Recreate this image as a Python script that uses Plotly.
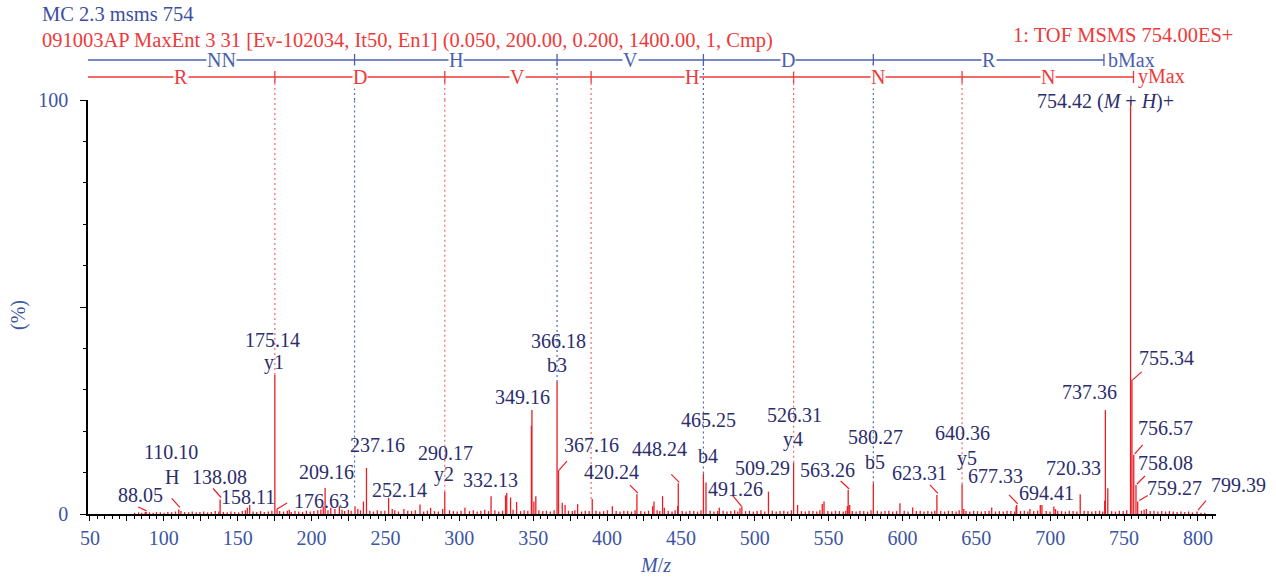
import plotly.graph_objects as go

# ---------------- data ----------------
# labelled peaks (m/z, relative intensity %)
label_mz = [88.05, 110.10, 138.08, 158.11, 175.14, 176.63, 209.16, 237.16, 252.14, 290.17,
            332.13, 349.16, 366.18, 367.16, 420.24, 448.24, 465.25, 491.26, 509.29, 526.31,
            563.26, 580.27, 623.31, 640.36, 677.33, 694.41, 720.33, 737.36, 754.42, 755.34,
            756.57, 758.08, 759.27, 799.39]
label_int = [0.5, 1.1, 3.5, 2.2, 33.6, 1.2, 6.3, 11.1, 3.9, 5.4,
             5.1, 25.1, 31.9, 10.6, 4.8, 7.4, 9.8, 1.9, 5.4, 12.4,
             5.8, 7.4, 4.6, 7.2, 2.2, 2.2, 4.8, 25.1, 100.0, 32.4,
             14.3, 7.0, 3.0, 0.6]
label_text = ["88.05", "110.10", "138.08", "158.11", "175.14", "176.63", "209.16", "237.16", "252.14", "290.17",
              "332.13", "349.16", "366.18", "367.16", "420.24", "448.24", "465.25", "491.26", "509.29", "526.31",
              "563.26", "580.27", "623.31", "640.36", "677.33", "694.41", "720.33", "737.36",
              "754.42 (<i>M</i> + <i>H</i>)+", "755.34", "756.57", "758.08", "759.27", "799.39"]
ion_text = {"110.10": "H", "175.14": "y1", "290.17": "y2", "366.18": "b3", "465.25": "b4",
            "526.31": "y4", "580.27": "b5", "640.36": "y5"}

# other visible peaks (m/z, %)
other_peaks = [(156.5, 1.5), (184.9, 1.0), (207.9, 1.8), (213.0, 1.5), (215.8, 1.2), (218.8, 1.9),
               (224.9, 1.0), (229.4, 1.9), (235.1, 3.0), (254.6, 1.2), (262.5, 1.2), (273.4, 2.3),
               (280.6, 1.5), (288.7, 1.2), (303.8, 1.5), (321.5, 4.3), (331.3, 4.5), (334.7, 4.0),
               (338.8, 2.9), (348.8, 21.3), (350.5, 3.0), (351.8, 4.3), (369.7, 2.7), (371.6, 2.2),
               (380.1, 2.4), (390.0, 3.6), (403.6, 1.9), (430.9, 1.9), (431.8, 3.0), (437.6, 4.3),
               (438.8, 1.5), (447.8, 1.9), (467.0, 7.6), (476.0, 1.5), (490.0, 1.4), (529.0, 2.2),
               (545.7, 2.4), (546.9, 3.0), (562.7, 1.9), (564.3, 2.2), (598.3, 2.6), (606.9, 1.6),
               (641.5, 1.2), (660.4, 1.6), (676.9, 1.8), (686.3, 1.2), (693.3, 2.2), (702.5, 1.8),
               (703.6, 1.2), (736.9, 3.2), (739.0, 6.2), (765.1, 1.2)]

# baseline noise peaks (m/z, %)
noise_peaks = [
    (80.2, 0.3), (82.9, 0.4), (85.1, 0.3), (87.4, 0.5), (90.3, 0.4), (92.8, 0.3), (95.0, 0.5), (97.6, 0.4), (100.2, 0.3), (102.7, 0.5),
    (105.3, 0.4), (107.9, 0.6), (111.6, 0.7), (114.1, 0.5), (116.8, 0.4), (119.2, 0.6), (121.9, 0.4), (124.4, 0.5), (127.0, 0.6), (129.6, 0.4),
    (132.1, 0.5), (134.8, 0.7), (137.2, 0.6), (140.3, 0.5), (142.9, 0.4), (145.4, 0.6), (148.0, 0.5), (150.6, 0.4), (153.1, 0.7), (155.2, 0.9),
    (160.4, 0.6), (162.9, 0.5), (165.5, 0.7), (168.0, 0.5), (170.7, 0.6), (173.1, 0.8), (178.4, 0.7), (181.0, 0.6), (183.6, 0.8), (186.2, 0.5),
    (188.8, 0.7), (191.3, 0.6), (193.9, 0.5), (196.5, 0.8), (199.1, 0.6), (201.6, 0.7), (204.2, 0.9), (206.3, 1.1), (211.1, 0.9), (220.6, 1.0),
    (222.4, 0.7), (226.8, 0.8), (231.3, 1.2), (233.1, 0.9), (239.4, 0.8), (241.9, 0.6), (244.5, 0.9), (247.0, 0.7), (249.6, 0.8), (256.3, 0.9),
    (258.8, 0.6), (265.1, 0.8), (267.7, 0.7), (270.2, 0.9), (275.9, 0.6), (278.4, 0.8), (283.2, 0.7), (285.8, 0.6), (293.4, 0.9), (296.0, 0.7),
    (298.6, 0.6), (301.2, 0.8), (306.9, 0.7), (309.5, 0.9), (312.1, 0.6), (314.6, 0.8), (317.2, 1.0), (319.8, 0.7), (324.1, 0.9), (326.7, 0.6),
    (329.3, 0.8), (336.4, 1.0), (341.5, 0.7), (343.9, 0.9), (346.4, 0.8), (353.9, 0.9), (356.5, 0.7), (359.0, 0.8), (361.6, 0.6), (364.2, 0.9),
    (373.9, 0.8), (376.5, 0.7), (378.2, 0.9), (382.8, 0.6), (385.3, 0.8), (387.9, 0.7), (392.5, 0.8), (395.1, 0.6), (397.7, 0.7), (400.3, 0.9),
    (406.2, 0.7), (408.8, 0.6), (411.4, 0.8), (414.0, 0.7), (416.6, 0.6), (419.0, 0.9), (422.9, 0.7), (425.5, 0.6), (428.1, 0.8), (433.9, 0.9),
    (435.7, 0.7), (441.4, 0.8), (444.0, 0.6), (446.1, 0.9), (450.9, 0.7), (453.5, 0.6), (456.1, 0.8), (458.7, 0.7), (461.3, 0.6), (463.6, 0.9),
    (469.8, 0.8), (472.4, 0.6), (474.9, 0.7), (478.6, 0.8), (481.2, 0.6), (483.8, 0.7), (486.4, 0.9), (488.5, 0.6), (493.8, 0.7), (496.4, 0.8),
    (499.0, 0.6), (501.6, 0.7), (504.2, 0.9), (506.8, 0.6), (511.9, 0.8), (514.5, 0.6), (517.1, 0.7), (519.7, 0.8), (522.3, 0.6), (524.8, 0.9),
    (531.6, 0.7), (534.2, 0.6), (536.8, 0.8), (539.4, 0.7), (542.0, 0.6), (544.1, 0.9), (549.5, 0.7), (552.1, 0.6), (554.7, 0.8), (557.3, 0.7),
    (559.9, 0.6), (561.6, 0.8), (566.0, 0.7), (568.6, 0.6), (571.2, 0.8), (573.8, 0.7), (576.4, 0.6), (578.7, 0.9), (583.0, 0.8), (585.6, 0.6),
    (588.2, 0.7), (590.8, 0.8), (593.4, 0.6), (596.0, 0.7), (601.2, 0.8), (603.8, 0.6), (609.4, 0.7), (612.0, 0.8), (614.6, 0.6), (617.2, 0.7),
    (619.8, 0.6), (621.9, 0.8), (625.9, 0.7), (628.5, 0.6), (631.1, 0.8), (633.7, 0.7), (636.3, 0.6), (638.4, 0.9), (643.0, 0.7), (645.6, 0.6),
    (648.2, 0.8), (650.8, 0.7), (653.4, 0.6), (656.0, 0.7), (658.6, 0.8), (663.0, 0.6), (665.6, 0.7), (668.2, 0.6), (670.8, 0.8), (673.4, 0.7),
    (675.9, 0.6), (679.9, 0.7), (682.5, 0.8), (684.9, 0.6), (688.9, 0.7), (691.5, 0.8), (697.3, 0.7), (699.9, 0.6), (705.1, 0.8), (707.7, 0.7),
    (710.3, 0.6), (712.9, 0.8), (715.5, 0.7), (718.1, 0.6), (723.0, 0.8), (725.6, 0.7), (728.2, 0.6), (730.8, 0.7), (733.4, 0.8), (735.6, 0.6),
    (741.6, 0.7), (744.2, 0.6), (746.8, 0.8), (749.4, 0.7), (751.8, 0.9), (761.8, 0.8), (763.6, 1.0), (767.7, 0.7), (770.3, 0.8), (772.9, 0.6),
    (775.5, 0.7), (778.1, 0.6), (780.7, 0.7), (783.3, 0.6), (785.9, 0.5), (788.5, 0.6), (791.1, 0.5), (793.7, 0.6), (796.3, 0.4), (802.1, 0.3),
    (804.7, 0.3)]

# sequence ladders
b_ion_mz = [229.09, 366.18, 465.25, 580.27]
b_max_mz = 736.4
b_residues = ["NN", "H", "V", "D", "R"]
b_dot_end = [4.0, 31.9, 9.8, 7.4]
y_ion_mz = [175.14, 290.17, 389.24, 526.31, 640.36]
y_max_mz = 756.4
y_residues = ["R", "D", "V", "H", "N", "N"]
y_dot_end = [33.6, 5.4, 3.6, 12.4, 7.2]

x_tick_vals = list(range(50, 801, 25))
x_tick_text = [str(v) if v % 50 == 0 else "" for v in x_tick_vals]

title1 = "MC 2.3 msms 754"
title2 = "091003AP MaxEnt 3 31 [Ev-102034, It50, En1] (0.050, 200.00, 0.200, 1400.00, 1, Cmp)"
title3 = "1: TOF MSMS 754.00ES+"

# ---------------- style ----------------
FONT = "Liberation Serif, Times New Roman, serif"
RED = "#ec1c24"
LRED = "#ee3a3a"
DOTRED = "#f06a6a"
BLUE = "#4a60ae"
DOTBLUE = "#5468b4"
NAVY = "#2b2d6c"
TICKBLUE = "#3c55a5"
XMIN, XMAX = 48.65, 812.25
FS = 20
HFS = 20.5
DOT = "2px,3px"

# label offsets in pixels (dx, dy relative to the peak top; dy positive = down)
label_off = {
    "88.05": (-6, -17), "110.10": (-8, -57), "138.08": (-1, -23), "158.11": (-2, -8),
    "175.14": (-2, -35), "176.63": (44, -8), "209.16": (1, -16), "237.16": (11, -23),
    "252.14": (11, -8), "290.17": (1, -39), "332.13": (-16, -13), "349.16": (-9, -13),
    "366.18": (1, -41), "367.16": (33, -25), "420.24": (-25, -22), "448.24": (-19, -34),
    "465.25": (5, -53), "491.26": (-6, -17), "509.29": (-6, -24), "526.31": (1, -48),
    "563.26": (-21, -20), "580.27": (2, -46), "623.31": (-17, -22), "640.36": (0, -51),
    "677.33": (-21, -29), "694.41": (5, -12), "720.33": (-7, -26), "737.36": (-16, -18),
    "754.42": (-25, 1), "755.34": (35, -22), "756.57": (32, -27), "758.08": (30, -22),
    "759.27": (37, -14), "799.39": (41, -27)}
ion_off = {"110.10": (-7, -32), "175.14": (-1, -12), "290.17": (-1, -17), "366.18": (0, -17),
           "465.25": (5, -17), "526.31": (-1, -23), "580.27": (2, -21), "640.36": (5, -26)}
# leader lines (x0, y0, x1, y1) pixels relative to peak top, y down
leader_off = {
    "88.05": (-8, -5, 0.5, -1), "110.10": (-7, -11, 1, -2), "138.08": (-7, -11, 1, -2),
    "176.63": (10, -6, 0, 0), "367.16": (8.5, -9, 0.5, 0), "420.24": (-7, -9, 1, -1),
    "448.24": (-7, -9, 1, -1), "491.26": (-9.5, -11, -0.5, 0), "563.26": (-7.5, -9, 1, -1),
    "623.31": (-7, -10, 1, -1.5), "677.33": (-7.7, -10, 1, -1), "755.34": (9.7, -8, 0.7, 0),
    "756.57": (9, -10, 1, -1), "758.08": (9, -9, 1, -1), "759.27": (10, -6, 1.5, -1),
    "799.39": (9, -11, 1, -1.5)}

PLOT_H = 414.0
def paper_y(px_from_top):
    return (514.0 - px_from_top) / PLOT_H

B_LINE_Y = paper_y(60)
Y_LINE_Y = paper_y(77)

# ---------------- figure ----------------
xs, ys = [], []
for m, h in list(noise_peaks) + list(other_peaks) + list(zip(label_mz, label_int)):
    xs += [m, m, None]
    ys += [0, h, None]

fig = go.Figure()
fig.add_trace(go.Scatter(x=xs, y=ys, mode="lines", line=dict(color=RED, width=1.3),
                         hoverinfo="skip", showlegend=False))

shapes = []
annotations = []

# peak labels
for m, h, t in zip(label_mz, label_int, label_text):
    key = t.split(" ")[0]
    dx, dy = label_off[key]
    annotations.append(dict(x=m, y=h, xref="x", yref="y", text=t, showarrow=False,
                            xanchor="center", yanchor="middle", xshift=dx, yshift=-dy,
                            font=dict(family=FONT, size=FS, color=NAVY)))
    if key in ion_off:
        sdx, sdy = ion_off[key]
        annotations.append(dict(x=m, y=h, xref="x", yref="y", text=ion_text[key], showarrow=False,
                                xanchor="center", yanchor="middle", xshift=sdx, yshift=-sdy,
                                font=dict(family=FONT, size=FS, color=NAVY)))
    if key in leader_off:
        x0, y0, x1, y1 = leader_off[key]
        shapes.append(dict(type="line", xref="x", yref="y", xsizemode="pixel", ysizemode="pixel",
                           xanchor=m, yanchor=h, x0=x0, x1=x1, y0=-y0, y1=-y1,
                           line=dict(color=RED, width=1.2)))

# ladders
def ladder(ions, end_mz, residues, ly, color, dcolor, dot_end, endtext):
    shapes.append(dict(type="line", xref="x", yref="paper", x0=XMIN, x1=end_mz, y0=ly, y1=ly,
                       line=dict(color=color, width=1.3)))
    for m, d in zip(ions + [end_mz], dot_end + [None]):
        shapes.append(dict(type="line", xref="x", yref="paper", ysizemode="pixel", yanchor=ly,
                           x0=m, x1=m, y0=-6, y1=6, line=dict(color=color, width=1.3)))
        if d is not None:
            shapes.append(dict(type="line", xref="x", yref="paper", x0=m, x1=m, y0=1.0, y1=ly,
                               line=dict(color=dcolor, width=1.2, dash=DOT)))
            shapes.append(dict(type="line", xref="x", yref="y", x0=m, x1=m, y0=d, y1=100,
                               line=dict(color=dcolor, width=1.2, dash=DOT)))
    bounds = [XMIN] + ions + [end_mz]
    for i, r in enumerate(residues):
        mid = (bounds[i] + bounds[i + 1]) / 2
        annotations.append(dict(x=mid, y=ly, xref="x", yref="paper", text=r, showarrow=False,
                                xanchor="center", yanchor="middle", bgcolor="white", borderpad=0,
                                font=dict(family=FONT, size=FS, color=color)))
    annotations.append(dict(x=end_mz, y=ly, xref="x", yref="paper", text=endtext, showarrow=False,
                            xanchor="left", yanchor="middle", xshift=2,
                            font=dict(family=FONT, size=FS, color=color)))

ladder(b_ion_mz, b_max_mz, b_residues, B_LINE_Y, BLUE, DOTBLUE, b_dot_end, "bMax")
ladder(y_ion_mz, y_max_mz, y_residues, Y_LINE_Y, LRED, DOTRED, y_dot_end, "yMax")

# headers
def px_x(px):
    return (px - 88.0) / 1128.0

annotations += [
    dict(x=px_x(40), y=paper_y(14), xref="paper", yref="paper", text=title1, showarrow=False,
         xanchor="left", yanchor="middle", font=dict(family=FONT, size=HFS, color="#3e4fa0")),
    dict(x=px_x(40), y=paper_y(40), xref="paper", yref="paper", text=title2, showarrow=False,
         xanchor="left", yanchor="middle", font=dict(family=FONT, size=HFS, color=LRED)),
    dict(x=px_x(1235), y=paper_y(35), xref="paper", yref="paper", text=title3, showarrow=False,
         xanchor="right", yanchor="middle", font=dict(family=FONT, size=HFS, color=LRED)),
    dict(x=px_x(18), y=paper_y(315), xref="paper", yref="paper", text="(%)", showarrow=False,
         textangle=-90, xanchor="center", yanchor="middle", font=dict(family=FONT, size=FS, color=TICKBLUE)),
    dict(x=px_x(655), y=paper_y(565), xref="paper", yref="paper", text="<i>M</i>/<i>z</i>", showarrow=False,
         xanchor="center", yanchor="middle", font=dict(family=FONT, size=FS, color=TICKBLUE)),
]

fig.update_layout(
    width=1276, height=579,
    margin=dict(l=88, r=60, t=100, b=65, autoexpand=False),
    plot_bgcolor="white", paper_bgcolor="white",
    shapes=shapes, annotations=annotations, showlegend=False,
    xaxis=dict(range=[XMIN, XMAX], showgrid=False, zeroline=False, showline=True,
               linecolor="black", linewidth=1.5, ticks="outside", ticklen=5, tickwidth=1.2,
               tickcolor="black", tickmode="array", tickvals=x_tick_vals, ticktext=x_tick_text,
               tickfont=dict(family=FONT, size=FS, color=TICKBLUE), ticklabelstandoff=0,
               minor=dict(tickmode="linear", tick0=50, dtick=5, ticks="outside", ticklen=3,
                          tickwidth=1, tickcolor="black"),
               automargin=False),
    yaxis=dict(range=[0, 100], showgrid=False, zeroline=False, showline=True,
               linecolor="black", linewidth=1.5, ticks="outside", ticklen=6, tickwidth=1.2,
               tickcolor="black", tickmode="array", tickvals=[0, 50, 100], ticktext=["0", "", "100"],
               tickfont=dict(family=FONT, size=FS, color=TICKBLUE), ticklabelstandoff=8,
               minor=dict(tickmode="array", tickvals=[10, 20, 30, 40, 60, 70, 80, 90], ticks="outside",
                          ticklen=3, tickwidth=1, tickcolor="black"),
               automargin=False),
)

fig.write_html("out.html", config={"displayModeBar": False},
               post_script="document.body.style.margin='0px';document.body.style.overflow='hidden';")
